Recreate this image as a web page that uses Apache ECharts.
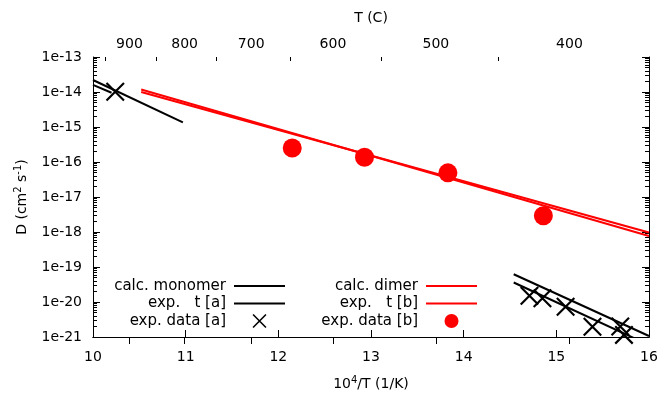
<!DOCTYPE html>
<html><head><meta charset="utf-8">
<script src="https://cdn.jsdelivr.net/npm/echarts@6/dist/echarts.min.js"></script>
<style>html,body{margin:0;padding:0;background:#fff}#c{width:660px;height:396px}</style>
</head><body><div id="c"></div>
<script>
const FONT = 'DejaVu Sans';

// ---- data (x = 10^4/T in 1/K, D in cm^2 s^-1) ----
const calcMonomerUpperX = [10.0, 10.97];
const calcMonomerUpperD = [2.2e-14, 1.35e-15];
const calcMonomerLowerX = [14.54, 16.0];
const calcMonomerLowerD = [6.2e-20, 1.07e-21];

const expFitAUpperX = [10.0, 10.2];
const expFitAUpperD = [1.6e-14, 9.5e-15];
const expFitALowerX = [14.54, 16.0];
const expFitALowerD = [3.6e-20, 5.9e-22];

const expDataAX = [10.24, 14.71, 14.85, 15.10, 15.39, 15.69, 15.73];
const expDataAD = [1.02e-14, 1.5e-20, 1.28e-20, 7.3e-21, 1.97e-21, 2.0e-21, 1.15e-21];

const calcDimerX = [10.52, 16.0];
const calcDimerD = [1.18e-14, 7.7e-19];
const expFitBX = [10.52, 16.0];
const expFitBD = [1.0e-14, 9.7e-19];

const expDataBX = [12.15, 12.93, 13.83, 14.86];
const expDataBD = [2.5e-16, 1.36e-16, 4.9e-17, 2.9e-18];

// ---- tick labels ----
const xTicks = [10, 11, 12, 13, 14, 15, 16];
const yDecades = [-21, -20, -19, -18, -17, -16, -15, -14, -13];   // exponents of the 1eN labels
const tempLabels = [900, 800, 700, 600, 500, 400];     // T (C), labelled
const tempMinor = [950, 850, 750, 650, 550, 450];      // T (C), minor ticks
const minorFactors = [2, 3, 4, 5, 6, 7, 8, 9];

const NAME_MONO = 'calc. monomer';
const NAME_FITA = 'exp.   t [a]';
const NAME_DATA_A = 'exp. data [a]';
const NAME_DIMER = 'calc. dimer';
const NAME_FITB = 'exp.   t [b]';
const NAME_DATA_B = 'exp. data [b]';

// ---- helpers ----
const zip = (xs, ys) => xs.map((x, i) => [x, ys[i]]);
const toTopAxis = t => 1e4 / (t + 273.15);
const topMajor = tempLabels.map(toTopAxis);
const topMinor = tempMinor.map(toTopAxis);
const yMinorLog = [];
yDecades.slice(0, -1).forEach(n => minorFactors.forEach(k => yMinorLog.push(n + Math.log10(k))));
const yLo = yDecades[0], yHi = yDecades[yDecades.length - 1];

const X_PATH = 'path://M0,8L8,0L100,92L92,100Z M92,0L100,8L8,100L0,92Z';
const LINE_ICON = 'path://M0,0L51,0L51,2L0,2Z';

const txt = {fontFamily: FONT, fontSize: 14, color: '#000'};
const blk = {color: '#000', width: 1};
const supRich = {sup: {fontFamily: FONT, fontSize: 10, color: '#000', verticalAlign: 'top', lineHeight: 10}};

const chart = echarts.init(document.getElementById('c'), null, {renderer: 'canvas'});

const lineSeries = (name, xs, ys, color) => ({
  name, type: 'line', data: zip(xs, ys), symbol: 'none', clip: true,
  lineStyle: {color, width: 2}, itemStyle: {color}, silent: true
});

const legendCommon = {
  orient: 'vertical', align: 'right', top: 278.5, padding: 0,
  itemWidth: 51, itemHeight: 14, itemGap: 2.5, selectedMode: false,
  textStyle: {fontFamily: FONT, fontSize: 15, color: '#000', lineHeight: 15, padding: [0, 3, 0, 0]}
};

// log-space helper axis (ticks / labels only), sharing the same extent as the data's log axis
const logSpaceAxis = (position, extra) => Object.assign({
  type: 'value', position, min: yLo, max: yHi,
  axisLine: {show: false}, splitLine: {show: false}, axisLabel: {show: false}
}, extra);

chart.setOption({
  animation: false,
  backgroundColor: '#fff',
  grid: {left: 93, right: 11, top: 57, bottom: 59, containLabel: false, outerBoundsMode: 'none'},
  legend: [
    Object.assign({}, legendCommon, {
      right: 375,
      data: [{name: NAME_MONO, icon: LINE_ICON}, {name: NAME_FITA, icon: LINE_ICON}, {name: NAME_DATA_A, icon: X_PATH}]
    }),
    Object.assign({}, legendCommon, {
      right: 183,
      data: [{name: NAME_DIMER, icon: LINE_ICON}, {name: NAME_FITB, icon: LINE_ICON}, {name: NAME_DATA_B, icon: 'circle'}]
    })
  ],
  xAxis: [
    {
      type: 'value', position: 'bottom', min: xTicks[0], max: xTicks[xTicks.length - 1], interval: 1,
      axisLine: {show: true, lineStyle: blk},
      axisTick: {inside: true, length: 7, lineStyle: blk},
      axisLabel: Object.assign({}, txt, {margin: 13, showMinLabel: true, showMaxLabel: true, hideOverlap: false}),
      splitLine: {show: false},
      name: '10{sup|4}/T (1/K)', nameLocation: 'middle', nameGap: 38, nameMoveOverlap: false,
      nameTextStyle: Object.assign({}, txt, {lineHeight: 18, rich: supRich})
    },
    {
      type: 'value', position: 'top', min: 8, max: 16,
      axisLine: {show: true, lineStyle: blk},
      axisTick: {inside: true, length: 7, lineStyle: blk, customValues: topMajor},
      axisLabel: Object.assign({}, txt, {margin: 6, customValues: topMajor,
        formatter: v => String(Math.round(1e4 / v - 273.15))}),
      splitLine: {show: false},
      name: 'T (C)', nameLocation: 'middle', nameGap: 32, nameMoveOverlap: false, nameTextStyle: txt
    },
    {
      type: 'value', position: 'top', min: 8, max: 16,
      axisLine: {show: false},
      axisTick: {inside: true, length: 4, lineStyle: blk, customValues: topMinor},
      axisLabel: {show: false},
      splitLine: {show: false}
    }
  ],
  yAxis: [
    {
      // data axis
      type: 'log', logBase: 10, position: 'left', min: Math.pow(10, yLo), max: Math.pow(10, yHi),
      axisLine: {show: true, lineStyle: blk},
      axisTick: {show: false}, axisLabel: {show: false}, splitLine: {show: false},
      name: 'D (cm{sup|2} s{sup|-1})', nameLocation: 'middle', nameGap: 62, nameRotate: 90, nameMoveOverlap: false,
      nameTextStyle: Object.assign({}, txt, {lineHeight: 18, rich: supRich})
    },
    logSpaceAxis('left', {
      interval: 1,
      axisTick: {inside: true, length: 7, lineStyle: blk},
      axisLabel: Object.assign({}, txt, {show: true, margin: 11, showMinLabel: true, showMaxLabel: true, hideOverlap: false,
        formatter: v => '1e' + Math.round(v)})
    }),
    logSpaceAxis('left', {axisTick: {inside: true, length: 4, lineStyle: blk, customValues: yMinorLog}}),
    {
      type: 'log', logBase: 10, position: 'right', min: Math.pow(10, yLo), max: Math.pow(10, yHi),
      axisLine: {show: true, lineStyle: blk},
      axisTick: {show: false}, axisLabel: {show: false}, splitLine: {show: false}
    },
    logSpaceAxis('right', {interval: 1, axisTick: {inside: true, length: 7, lineStyle: blk}}),
    logSpaceAxis('right', {axisTick: {inside: true, length: 4, lineStyle: blk, customValues: yMinorLog}})
  ],
  series: [
    lineSeries(NAME_MONO, calcMonomerUpperX, calcMonomerUpperD, '#000'),
    lineSeries(NAME_MONO, calcMonomerLowerX, calcMonomerLowerD, '#000'),
    lineSeries(NAME_FITA, expFitAUpperX, expFitAUpperD, '#000'),
    lineSeries(NAME_FITA, expFitALowerX, expFitALowerD, '#000'),
    {name: NAME_DATA_A, type: 'scatter', symbol: X_PATH, symbolSize: 19, data: zip(expDataAX, expDataAD),
     itemStyle: {color: '#000', opacity: 1}, silent: true, clip: false},
    lineSeries(NAME_DIMER, calcDimerX, calcDimerD, '#ff0000'),
    lineSeries(NAME_FITB, expFitBX, expFitBD, '#ff0000'),
    {name: NAME_DATA_B, type: 'scatter', symbol: 'circle', symbolSize: 19, data: zip(expDataBX, expDataBD),
     itemStyle: {color: '#ff0000', opacity: 1}, silent: true, clip: false}
  ]
});
</script></body></html>
